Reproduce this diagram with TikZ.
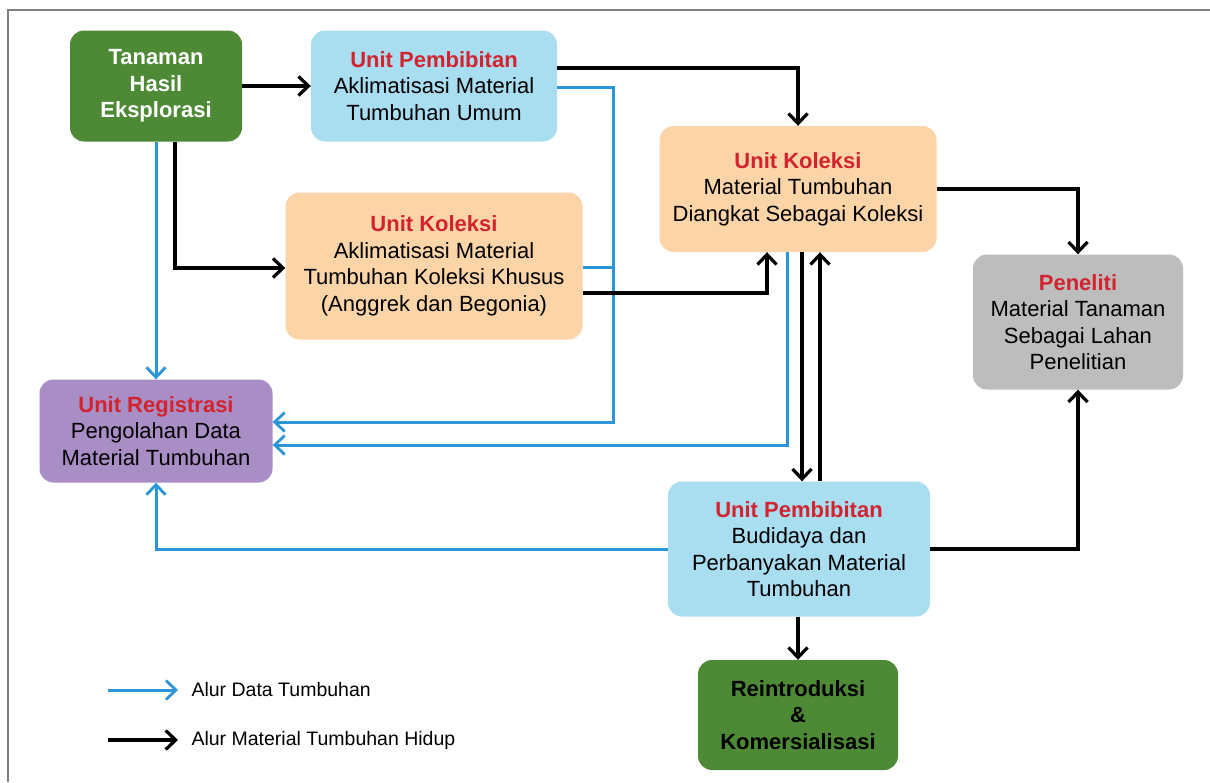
\documentclass[tikz,border=0pt]{standalone}
\usepackage{fontspec}
\setmainfont{Liberation Sans}
\usetikzlibrary{arrows.meta}
\definecolor{leaf}{HTML}{4E8A36}
\definecolor{sky}{HTML}{A9DDF0}
\definecolor{peach}{HTML}{FBD5A8}
\definecolor{stone}{HTML}{BDBDBD}
\definecolor{lilac}{HTML}{A98DC5}
\definecolor{unitred}{HTML}{D2232E}
\definecolor{datablue}{HTML}{2B95D6}
\definecolor{framegray}{HTML}{808080}
\tikzset{
  box/.style={rounded corners=14pt, align=center, inner sep=0pt,
    font=\fontsize{22}{26.5}\selectfont},
  live/.style={draw=black, line width=3.4pt,
    -{Straight Barb[length=10pt,width=19pt,line width=3.2pt]}},
  data/.style={draw=datablue, line width=3pt,
    -{Straight Barb[length=10pt,width=19pt,line width=2.8pt]}},
  dataline/.style={draw=datablue, line width=3pt},
  legendtext/.style={anchor=west, font=\fontsize{19.5}{22}\selectfont}
}
\newcommand{\unitname}[1]{{\bfseries\color{unitred}#1}}
\begin{document}
\begin{tikzpicture}[x=1pt,y=-1pt]
\useasboundingbox (0,0) rectangle (1210,782);
\fill[white] (0,0) rectangle (1210,782);
% outer frame
\draw[framegray, line width=1.4pt] (8,782) -- (8,10) -- (1210,10);

% boxes
\node[box, fill=leaf, text=white, minimum width=172pt, minimum height=111pt,
  font=\bfseries\fontsize{22}{26.5}\selectfont] (tanaman) at (156,86)
  {Tanaman\\Hasil\\Eksplorasi};
\node[box, fill=sky, minimum width=246pt, minimum height=111pt] (bibit1) at (434,86)
  {\unitname{Unit Pembibitan}\\Aklimatisasi Material\\Tumbuhan Umum};
\node[box, fill=peach, minimum width=297pt, minimum height=147pt] (aklim) at (434,266)
  {\unitname{Unit Koleksi}\\Aklimatisasi Material\\Tumbuhan Koleksi Khusus\\(Anggrek dan Begonia)};
\node[box, fill=peach, minimum width=277pt, minimum height=126pt] (koleksi) at (798,189)
  {\unitname{Unit Koleksi}\\Material Tumbuhan\\Diangkat Sebagai Koleksi};
\node[box, fill=stone, minimum width=210pt, minimum height=135pt] (peneliti) at (1078,322)
  {\unitname{Peneliti}\\Material Tanaman\\Sebagai Lahan\\Penelitian};
\node[box, fill=lilac, minimum width=233pt, minimum height=103pt] (regis) at (156,431)
  {\unitname{Unit Registrasi}\\Pengolahan Data\\Material Tumbuhan};
\node[box, fill=sky, minimum width=262pt, minimum height=135pt] (bibit2) at (799,549)
  {\unitname{Unit Pembibitan}\\Budidaya dan\\Perbanyakan Material\\Tumbuhan};
\node[box, fill=leaf, minimum width=200pt, minimum height=110pt,
  font=\bfseries\fontsize{22}{26.5}\selectfont] (reintro) at (798,715)
  {Reintroduksi\\\&\\Komersialisasi};

% junction points of the data lines
\coordinate (j1) at (613,87);
\coordinate (j2) at (613,422);

% data flow (blue)
\draw[data] (tanaman.south -| 156,0) -- (regis.north -| 156,0);
\draw[data] (bibit1.east |- 0,87) -- (j1) -- (j2) -- (regis.east |- 0,422);
\draw[dataline] (aklim.east |- 0,267) -- (j1 |- 0,267);
\draw[data] (koleksi.south -| 787,0) -- (787,445) -- (regis.east |- 0,445);
\draw[data] (bibit2.west) -- (156,549) -- (regis.south -| 156,0);

% living material flow (black)
\draw[live] (tanaman.east) -- (bibit1.west);
\draw[live] (bibit1.east |- 0,68) -- (798,68) -- (koleksi.north);
\draw[live] (tanaman.south -| 175,0) -- (175,268) -- (aklim.west |- 0,268);
\draw[live] (aklim.east |- 0,293) -- (767,293) -- (koleksi.south -| 767,0);
\draw[live] (koleksi.south -| 802,0) -- (bibit2.north -| 802,0);
\draw[live] (bibit2.north -| 820,0) -- (koleksi.south -| 820,0);
\draw[live] (koleksi.east) -- (1078,189) -- (peneliti.north);
\draw[live] (bibit2.east) -- (1078,549) -- (peneliti.south);
\draw[live] (bibit2.south -| 798,0) -- (reintro.north);

% legend
\coordinate (la1) at (108,690); \coordinate (la2) at (178,690);
\coordinate (lb1) at (108,740); \coordinate (lb2) at (178,740);
\draw[data] (la1) -- (la2);
\draw[live] (lb1) -- (lb2);
\node[legendtext] (ta) at (188,690) {Alur Data Tumbuhan};
\node[legendtext] (tb) at (188,740) {Alur Material Tumbuhan Hidup};
\end{tikzpicture}
\end{document}
